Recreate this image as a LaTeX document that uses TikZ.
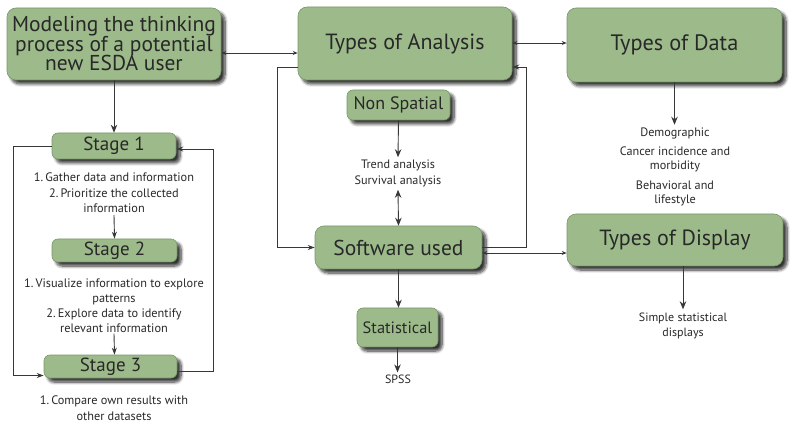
\documentclass[tikz,border=0pt]{standalone}
\usepackage{fontspec}
\setmainfont{PT Sans}
\usetikzlibrary{arrows.meta,shadows,shadows.blur,calc}
\definecolor{boxgreen}{RGB}{157,187,138}
\definecolor{boxedge}{RGB}{120,150,105}
\definecolor{ink}{RGB}{40,40,40}
\definecolor{linec}{RGB}{55,55,55}
\tikzset{
  box/.style={draw=boxedge, line width=0.6pt, fill=boxgreen, rounded corners=9pt,
    text=ink, align=center, inner sep=0pt,
    blur shadow={shadow xshift=4pt, shadow yshift=-4pt, shadow blur radius=3pt, shadow blur steps=8, shadow opacity=80}},
  smallbox/.style={box, rounded corners=6pt},
  note/.style={text=ink, align=center, inner sep=0pt},
  conn/.style={draw=linec, line width=0.9pt},
  arr/.style={conn, -{Stealth[length=8pt,width=6.5pt]}},
  loop/.style={conn, -{Stealth[length=7pt,width=5pt]}},
  dbl/.style={conn, {Stealth[length=5pt,width=4pt]}-{Stealth[length=5pt,width=4pt]}},
}
\lineskiplimit=-30pt\relax
\begin{document}
\begin{tikzpicture}[x=1pt,y=-1pt]
\useasboundingbox (0,0) rectangle (800,427);
% boxes
\node[box, minimum width=214pt, minimum height=72pt, font=\fontsize{21.5}{19.5}\selectfont]
  (model) at (114,44) {Modeling the thinking\\process of a potential\\new ESDA user};
\node[box, minimum width=214pt, minimum height=73pt, font=\fontsize{22}{24}\selectfont]
  (analysis) at (405,43.5) {Types of Analysis};
\node[box, minimum width=215pt, minimum height=74pt, font=\fontsize{22.3}{24}\selectfont]
  (data) at (674.5,45) {Types of Data};
\node[smallbox, minimum width=103pt, minimum height=30pt, font=\fontsize{18}{20}\selectfont]
  (nonsp) at (398.5,105) {Non Spatial};
\node[box, minimum width=167pt, minimum height=43pt, font=\fontsize{21.5}{23}\selectfont]
  (soft) at (398.5,247.5) {Software used};
\node[smallbox, minimum width=81pt, minimum height=39pt, font=\fontsize{16.4}{18}\selectfont]
  (stat) at (397.5,327.5) {Statistical};
\node[box, minimum width=216pt, minimum height=52pt, font=\fontsize{22}{24}\selectfont]
  (display) at (675,240) {Types of Display};
\node[smallbox, minimum width=124pt, minimum height=26pt, font=\fontsize{19}{21}\selectfont]
  (s1) at (114,146) {Stage 1};
\node[smallbox, minimum width=125pt, minimum height=23pt, font=\fontsize{19}{21}\selectfont]
  (s2) at (114.5,250.5) {Stage 2};
\node[smallbox, minimum width=133pt, minimum height=23pt, font=\fontsize{19}{21}\selectfont]
  (s3) at (110.5,366.5) {Stage 3};
% notes
\node[note, font=\fontsize{12.3}{15.5}\selectfont] (t1) at (114,193)
  {1.\,Gather data and information\\2.\,Prioritize the collected\\information};
\node[note, font=\fontsize{12.3}{15}\selectfont] (t2) at (114,305.5)
  {1.\,Visualize information to explore\\patterns\\2.\,Explore data to identify\\relevant information};
\node[note, font=\fontsize{12.3}{16}\selectfont] (t3) at (114,408)
  {1.\,Compare own results with\\other datasets};
\node[note, font=\fontsize{12.2}{16}\selectfont] (trend) at (398,173)
  {Trend analysis\\Survival analysis};
\node[note, font=\fontsize{12.2}{14.5}\selectfont] (tdata) at (675,167)
  {Demographic\\[4pt]Cancer incidence and\\morbidity\\[5pt]Behavioral and\\lifestyle};
\node[note, font=\fontsize{12}{15}\selectfont] (tdisp) at (683,325.5)
  {Simple statistical\\displays};
\node[note, font=\fontsize{12}{13}\selectfont] (spss) at (398,379) {SPSS};
% connectors
\draw[dbl] ([yshift=-9pt]model.east) -- ([yshift=-9pt]model.east -| analysis.west);
\draw[dbl] ([yshift=0.5pt]analysis.east) -- ([yshift=0.5pt]analysis.east -| data.west);
\draw[arr] (model.south) -- (s1.north -| model.south);
\draw[loop] ([yshift=-2pt]t1.south) -- (s2.north);
\draw[loop] ([yshift=-1pt]t2.south) -- (s2.north |- s3.north);
\coordinate (L) at (13,0);
\coordinate (R) at (213,0);
\draw[loop] (s1.west) -- (s1.west -| L) |- ([yshift=-9pt]s3.west);
\draw[loop] ([yshift=-4.5pt]s3.east) -- ([yshift=-4.5pt]s3.east -| R) |- ([yshift=-3pt]s1.east);
\coordinate (AL) at (277,0);
\coordinate (AR) at (526,0);
\draw[loop] ([yshift=-23.5pt]analysis.west) -- ([yshift=-23.5pt]analysis.west -| AL) |- (soft.west);
\draw[loop] (soft.east) -- (soft.east -| AR) |- ([yshift=-23.5pt]analysis.east);
\draw[dbl] ([yshift=-5.5pt]soft.east) -- ([yshift=-5.5pt]soft.east -| display.west);
\draw[arr] (nonsp.south) -- ([yshift=2pt]trend.north);
\draw[conn, {Stealth[length=8pt,width=6.5pt]}-{Stealth[length=8pt,width=6.5pt]}] ([yshift=-3pt]trend.south) -- (soft.north);
\draw[arr] (soft.south) -- (stat.north -| soft.south);
\draw[arr] (stat.south) -- ([yshift=2pt]spss.north -| stat.south);
\draw[arr] (data.south) -- ([yshift=3pt]tdata.north -| data.south);
\draw[arr] (display.south -| tdisp.north) -- ([yshift=3pt]tdisp.north);
\end{tikzpicture}
\end{document}
